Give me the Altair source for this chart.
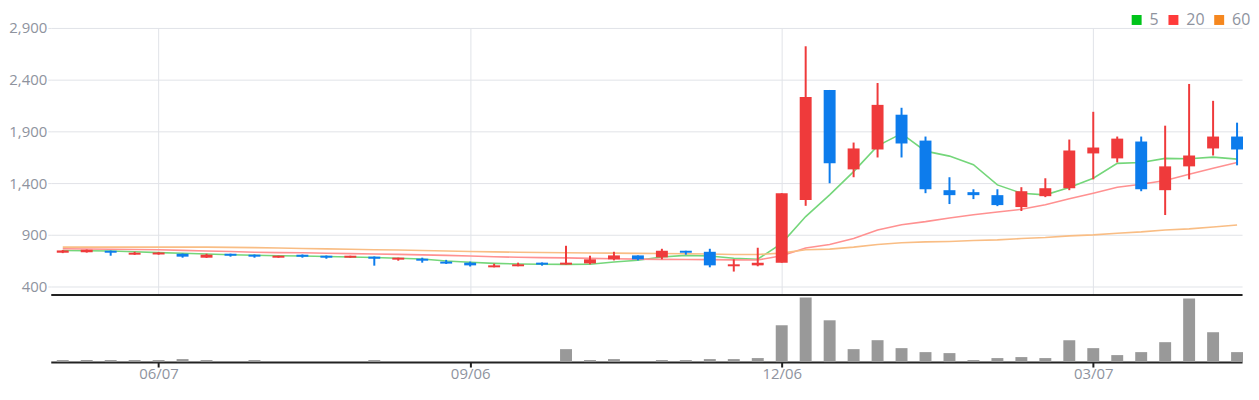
import altair as alt
import pandas as pd

# ---- data (weekly candles) ----
dates = pd.date_range("2024-05-10", periods=50, freq="7D").strftime("%Y-%m-%d").tolist()

opens = [729, 734, 748, 710, 712, 719, 681, 719, 710, 681,
         710, 700, 681, 691, 662, 671, 643, 633, 588, 598,
         633, 614, 626, 665, 703, 684, 748, 738, 598, 607,
         633, 1237, 2301, 1534, 1726, 2062, 1812, 1333, 1314, 1285,
         1170, 1275, 1352, 1688, 1640, 1803, 1333, 1563, 1736, 1851]
highs = [755, 760, 750, 738, 735, 721, 719, 720, 712, 700,
         712, 702, 700, 693, 681, 681, 660, 643, 623, 633,
         635, 796, 700, 738, 703, 767, 748, 767, 665, 777,
         1304, 2723, 2301, 1793, 2368, 2129, 1851, 1458, 1342, 1342,
         1362, 1448, 1822, 2090, 1851, 1851, 1956, 2359, 2196, 1985]
lows = [725, 730, 700, 708, 710, 681, 679, 691, 681, 681,
        681, 671, 681, 604, 652, 633, 620, 596, 588, 598,
        604, 614, 617, 655, 655, 665, 710, 588, 547, 598,
        633, 1182, 1400, 1458, 1649, 1649, 1304, 1199, 1247, 1179,
        1132, 1266, 1333, 1438, 1601, 1323, 1093, 1438, 1668, 1573]
closes = [751, 757, 729, 729, 731, 691, 710, 700, 691, 700,
          691, 681, 700, 671, 681, 652, 624, 607, 607, 617,
          614, 633, 665, 703, 665, 748, 729, 607, 617, 632,
          1304, 2234, 1592, 1736, 2157, 1784, 1342, 1285, 1285, 1189,
          1323, 1352, 1716, 1745, 1831, 1342, 1563, 1668, 1851, 1726]

ma5 = [751, 748, 745, 738, 730, 724, 716, 710, 704, 700,
       697, 692, 688, 683, 676, 668, 649, 637, 626, 620,
       617, 616, 618, 640, 656, 688, 703, 697, 676, 666,
       820, 1078, 1288, 1512, 1761, 1879, 1710, 1662, 1579, 1384,
       1304, 1288, 1359, 1448, 1592, 1601, 1640, 1637, 1652, 1633]
ma20 = [767, 765, 763, 760, 757, 752, 745, 740, 734, 730,
        728, 724, 720, 717, 713, 708, 703, 697, 690, 685,
        682, 679, 674, 670, 667, 665, 663, 662, 660, 659,
        700, 774, 809, 866, 949, 1000, 1029, 1064, 1096, 1122,
        1148, 1192, 1250, 1304, 1362, 1390, 1426, 1486, 1544, 1601]
ma60 = [783, 783, 783, 783, 783, 783, 783, 781, 778, 774,
        770, 766, 762, 758, 755, 751, 746, 740, 737, 734,
        731, 729, 727, 725, 723, 721, 719, 716, 712, 712,
        725, 758, 764, 783, 809, 825, 834, 838, 847, 853,
        866, 876, 892, 901, 917, 930, 949, 959, 978, 997]

volume = [2, 2, 2, 2, 2, 3, 2, 0, 2, 0,
          0, 0, 0, 2, 0, 0, 0, 0, 0, 0,
          0, 13, 2, 3, 0, 2, 2, 3, 3, 4,
          37, 65, 42, 13, 22, 14, 10, 9, 2, 4,
          5, 4, 22, 14, 7, 10, 20, 64, 30, 10]

ma_names = ["5", "20", "60"]
ma_legend_colors = ["#00c41a", "#ff3b3b", "#f5871f"]
ma_line_colors = ["#74d67a", "#ff9191", "#f9bd84"]
tick_dates = [(2024, 6, 7), (2024, 9, 6), (2024, 12, 6), (2025, 3, 7)]
price_ticks = [400, 900, 1400, 1900, 2400, 2900]

RED = "#ef3a3b"
BLUE = "#0d7cec"
GRID = "#e1e3e8"
LABEL = "#8e939e"
FONT = "Open Sans"

# ---- tables ----
candles = pd.DataFrame({"date": dates, "open": opens, "high": highs,
                        "low": lows, "close": closes, "volume": volume})
rows = []
for name, arr in zip(ma_names, [ma5, ma20, ma60]):
    for d, v in zip(dates, arr):
        rows.append({"date": d, "series": name, "value": v})
ma_df = pd.DataFrame(rows)

tick_vals = [alt.DateTime(year=y, month=m, date=d, utc=True) for y, m, d in tick_dates]
x_scale = alt.Scale(type="utc", padding=0,
                    domain=[alt.DateTime(year=2024, month=5, date=6, hours=12, utc=True),
                            alt.DateTime(year=2025, month=4, date=19, hours=11, utc=True)])

W = 1198
VOL_H = 67

price_x = alt.X("date:T", scale=x_scale, title=None,
                axis=alt.Axis(values=tick_vals, grid=True, gridColor=GRID, gridWidth=1,
                              labels=False, ticks=False, domainColor="#222222",
                              domainWidth=2))
price_y_scale = alt.Scale(domain=[326, 2900], nice=False, zero=False)

base = alt.Chart(candles)

wicks = base.mark_rule(strokeWidth=2).encode(
    x=price_x,
    y=alt.Y("low:Q", scale=price_y_scale, title=None,
            axis=alt.Axis(values=price_ticks, format=",d", grid=True, gridColor=GRID,
                          domain=False, tickColor=GRID, tickSize=3, labelPadding=1,
                          labelFont=FONT, labelFontSize=15, labelColor=LABEL)),
    y2="high:Q",
    color=alt.condition("datum.close >= datum.open", alt.value(RED), alt.value(BLUE)),
)
bodies = base.mark_bar(size=12).encode(
    x=alt.X("date:T", scale=x_scale),
    y=alt.Y("open:Q", scale=price_y_scale),
    y2="close:Q",
    color=alt.condition("datum.close >= datum.open", alt.value(RED), alt.value(BLUE)),
)
lines = alt.Chart(ma_df).mark_line(strokeWidth=1.6).encode(
    x=alt.X("date:T", scale=x_scale),
    y=alt.Y("value:Q", scale=price_y_scale),
    stroke=alt.Stroke("series:N", scale=alt.Scale(domain=ma_names, range=ma_line_colors),
                      legend=None),
)
legend_layer = alt.Chart(ma_df).mark_square(opacity=0, size=100).encode(
    x=alt.X("date:T", scale=x_scale),
    y=alt.Y("value:Q", scale=price_y_scale),
    color=alt.Color("series:N", scale=alt.Scale(domain=ma_names, range=ma_legend_colors),
                    legend=alt.Legend(orient="none", legendX=1084, legendY=-16,
                                      direction="horizontal", title=None,
                                      symbolType="square", symbolSize=100,
                                      symbolStrokeWidth=0, symbolOpacity=1,
                                      labelFont=FONT, labelFontSize=16, labelColor=LABEL,
                                      labelOffset=5, columnPadding=6, padding=0)),
)

price = alt.layer(legend_layer, lines, wicks, bodies).properties(width=W, height=268)

vol = alt.Chart(candles).mark_bar(size=12, color="#999999").encode(
    x=alt.X("date:T", scale=x_scale, title=None,
            axis=alt.Axis(values=tick_vals, format="%m/%d", grid=False,
                          domainColor="#222222", domainWidth=2, tickColor="#222222",
                          tickWidth=2, tickSize=5, labelPadding=0, labelFont=FONT,
                          labelFontSize=15, labelColor=LABEL)),
    y=alt.Y("volume:Q", scale=alt.Scale(domain=[0, VOL_H], nice=False), axis=None),
).properties(width=W, height=VOL_H)

chart = alt.vconcat(price, vol, spacing=0).properties(
    padding={"top": 3, "left": 0, "right": 0, "bottom": 0}
).configure_view(stroke=None)

chart.save("out.html", embed_options={"renderer": "svg", "actions": False})
